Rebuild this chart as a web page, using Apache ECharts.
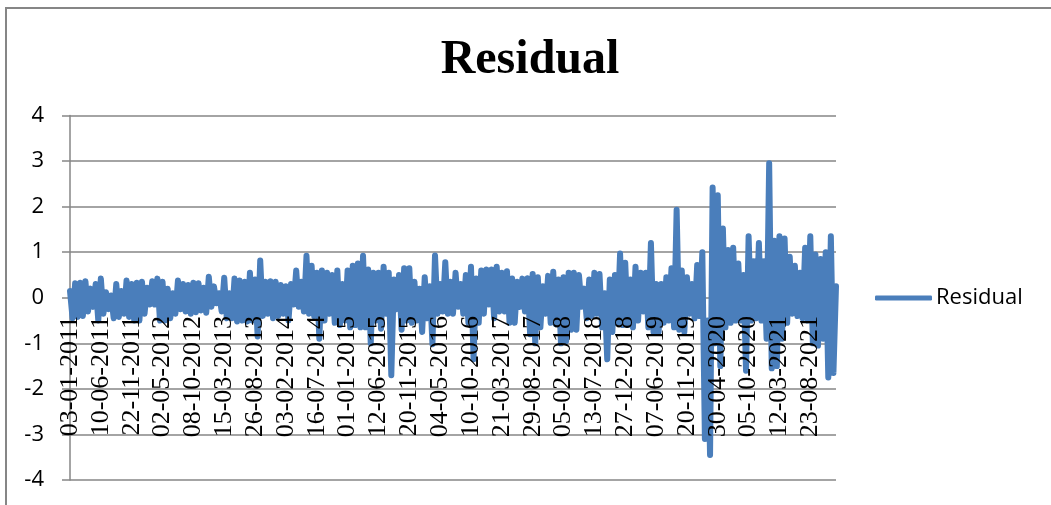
<!DOCTYPE html>
<html><head><meta charset="utf-8">
<style>html,body{margin:0;padding:0;background:#fff}#c{width:1051px;height:505px}</style>
<script src="https://cdn.jsdelivr.net/npm/echarts@6/dist/echarts.min.js"></script>
</head><body><div id="c"></div>
<script>
const title = 'Residual';
const seriesName = 'Residual';
const dateLabels = ['03-01-2011','10-06-2011','22-11-2011','02-05-2012','08-10-2012','15-03-2013','26-08-2013','03-02-2014','16-07-2014','01-01-2015','12-06-2015','20-11-2015','04-05-2016','10-10-2016','21-03-2017','29-08-2017','05-02-2018','13-07-2018','27-12-2018','07-06-2019','20-11-2019','30-04-2020','05-10-2020','12-03-2021','23-08-2021'];
const yTicks = [-4,-3,-2,-1,0,1,2,3,4];
// Upper and lower swings of the residual, six per label interval
const upper = [
 .15,.32,.33,.36,.2,.3,
 .42,.12,.05,.3,.15,.38,
 .3,.33,.35,.22,.36,.42,
 .35,.2,.1,.38,.3,.28,
 .33,.32,.22,.46,.25,.1,
 .44,.1,.42,.38,.35,.55,
 .4,.82,.35,.36,.35,.28,
 .25,.3,.6,.35,.92,.7,
 .55,.6,.55,.5,.6,.3,
 .6,.7,.75,.92,.62,.55,
 .55,.68,.55,.4,.5,.65,
 .65,.35,.2,.45,.25,.93,
 .3,.78,.35,.55,.3,.5,
 .68,.42,.6,.62,.62,.68,
 .55,.58,.42,.35,.42,.43,
 .52,.45,.25,.48,.57,.4,
 .45,.55,.55,.5,.2,.4,
 .55,.52,.1,.4,.5,.97,
 .77,.4,.68,.55,.55,1.2,
 .3,.3,.45,.65,1.93,.6,
 .45,.3,.72,1.0,-.5,2.42,
 2.25,1.52,1.05,1.1,.75,.5,
 1.35,.8,1.2,.8,2.95,1.25,
 1.35,1.3,.9,.7,.55,1.1,
 1.35,.95,.85,1.0,1.35,.25];
const lower = [
 -.45,-.42,-.4,-.3,-.2,-.5,
 -.35,-.25,-.45,-.42,-.35,-.42,
 -.5,-.5,-.35,-.15,-.15,-.5,
 -.5,-.45,-.35,-.25,-.3,-.35,
 -.32,-.28,-.33,-.2,-.12,-.3,
 -.45,-.45,-.52,-.5,-.52,-.5,
 -.85,-.4,-.35,-.45,-.4,-.35,
 -.5,-.15,-.2,-.3,-.35,-.4,
 -.9,-.5,-.35,-.55,-.6,-.5,
 -.65,-.6,-.65,-.65,-1,-.5,
 -.68,-.35,-1.7,-.25,-.7,-.5,
 -.55,-.5,-.75,-.45,-1.02,-.35,
 -.3,-.35,-.35,-.2,-.35,-.55,
 -1.35,-.55,-.35,-.15,-.45,-.3,
 -.3,-.55,-.55,-.2,-.3,-.8,
 -1,-.65,-.35,-.55,-.58,-1,
 -.95,-.7,-.7,-.2,-.45,-.4,
 -.35,-.65,-1.35,-.75,-.55,-.6,
 -.6,-.65,-.5,-.3,-.65,-.75,
 -.75,-.55,-.5,-.65,-.7,-.75,
 -.35,-.45,-.4,-3.1,-3.45,-1.0,
 -1.5,-.65,-.55,-.5,-.5,-1.6,
 -.5,-.45,-.5,-.9,-1.55,-1.5,
 -.9,-.55,-.35,-.4,-.45,-.5,
 -1,-1.05,-.9,-1.75,-1.65];
const perLabel = 6 * 2;
const values = [];
upper.forEach((u, i) => { values.push(u); if (i < lower.length) values.push(lower[i]); });
const categories = values.map((_, i) => i % perLabel === 0 ? dateLabels[i / perLabel] : '');

const gray = '#868686', blue = '#4A7EBB';
const chart = echarts.init(document.getElementById('c'), null, {renderer:'canvas'});
chart.setOption({
  animation:false,
  backgroundColor:'#fff',
  title:{text:title,left:525,top:28,textAlign:'center',
    textStyle:{fontFamily:'Liberation Serif',fontWeight:'bold',fontSize:48,color:'#000',lineHeight:56}},
  legend:{show:true,left:875,top:287,padding:0,icon:'roundRect',itemWidth:57,itemHeight:5,itemGap:0,
    data:[seriesName],textStyle:{fontFamily:'Open Sans',fontSize:22,color:'#000',padding:[0,0,0,-1]}},
  graphic:[
    {type:'line',shape:{x1:6,y1:8,x2:6,y2:505},style:{stroke:gray,lineWidth:2},silent:true},
    {type:'line',shape:{x1:5,y1:8,x2:1051,y2:8},style:{stroke:gray,lineWidth:2},silent:true}
  ],
  grid:{left:70,right:215,top:115.5,bottom:25,containLabel:false,outerBoundsMode:'none'},
  xAxis:{type:'category',data:categories,boundaryGap:false,z:5,position:'bottom',offset:-182,
    axisLine:{show:false,onZero:false},axisTick:{show:false},splitLine:{show:false},
    axisLabel:{interval:(i)=>i%perLabel===0,rotate:90,margin:18,hideOverlap:false,
      fontFamily:'Liberation Serif',fontSize:26,color:'#000'}},
  yAxis:{type:'value',min:yTicks[0],max:yTicks[yTicks.length-1],interval:1,
    axisLine:{show:true,onZero:false,lineStyle:{color:gray,width:1.5}},
    axisTick:{show:true,length:8,lineStyle:{color:gray,width:1.5}},
    splitLine:{show:true,lineStyle:{color:gray,width:1.5}},
    axisLabel:{margin:26,fontFamily:'Open Sans',fontSize:22,color:'#000'}},
  series:[{type:'line',name:seriesName,data:values,showSymbol:false,symbol:'none',smooth:false,
    lineStyle:{color:blue,width:6,cap:'round',join:'round'},itemStyle:{color:blue},z:2,clip:false}]
});
</script></body></html>
